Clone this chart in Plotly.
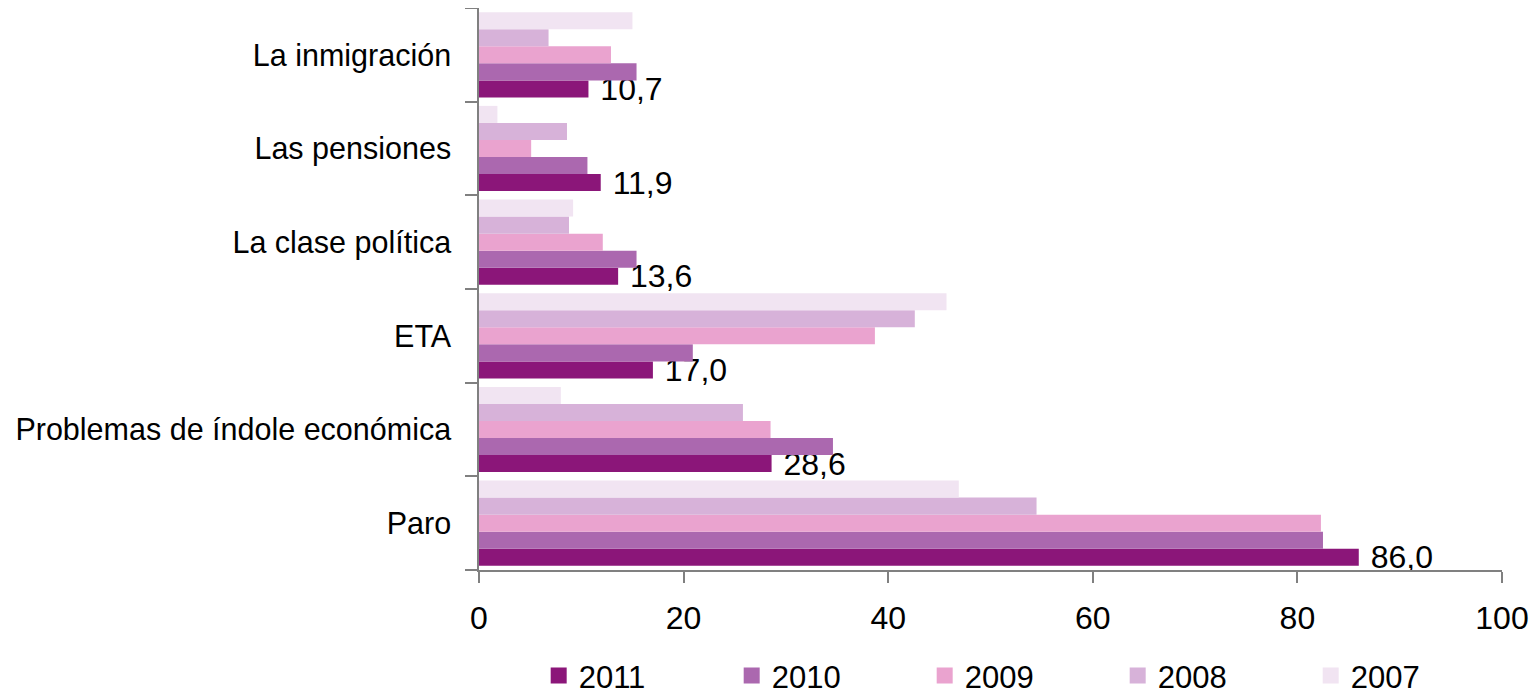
import plotly.graph_objects as go

categorias = ["Paro", "Problemas de índole económica", "ETA",
              "La clase política", "Las pensiones", "La inmigración"]

anos = ["2011", "2010", "2009", "2008", "2007"]

v2011 = [86.0, 28.6, 17.0, 13.6, 11.9, 10.7]
v2010 = [82.5, 34.6, 20.9, 15.4, 10.6, 15.4]
v2009 = [82.3, 28.5, 38.7, 12.1, 5.1, 12.9]
v2008 = [54.5, 25.8, 42.6, 8.8, 8.6, 6.8]
v2007 = [46.9, 8.0, 45.7, 9.2, 1.8, 15.0]

series = [v2011, v2010, v2009, v2008, v2007]
colores = ["#8B1679", "#AB68AF", "#EAA3CF", "#D7B2D9", "#F1E4F2"]

fuente = "Liberation Sans"

fig = go.Figure()
for ano, vals, col in zip(anos, series, colores):
    kw = {}
    if ano == "2011":
        # solo 2011 lleva etiqueta de datos
        kw = dict(texttemplate=" %{x:.1f}", textposition="outside",
                  textfont=dict(size=32, color="black", family=fuente),
                  constraintext="none", cliponaxis=False)
    fig.add_trace(go.Bar(y=categorias, x=vals, name=ano, orientation="h",
                         marker=dict(color=col, line=dict(width=0)),
                         showlegend=False, **kw))

# leyenda con cuadrados grandes
for ano, col in zip(anos, colores):
    fig.add_trace(go.Scatter(x=[None], y=[None], mode="markers", name=ano,
                             marker=dict(symbol="square", size=20, color=col)))

# la página tiene 8px de margen, así que la figura se ajusta a lo visible
fig.update_layout(
    barmode="group", bargap=0.09, bargroupgap=0,
    width=1530, height=690,
    margin=dict(l=471, r=36, t=0, b=128),
    plot_bgcolor="white", paper_bgcolor="white",
    separators=",.",
    font=dict(family=fuente, size=30, color="black"),
    legend=dict(orientation="h", x=0.53, xanchor="center",
                yref="container", y=0.032, yanchor="middle",
                font=dict(size=31), entrywidth=148, entrywidthmode="pixels",
                traceorder="normal", itemwidth=30),
)
fig.update_xaxes(range=[0, 100], dtick=20, showgrid=False, zeroline=False,
                 showline=True, linecolor="#808080", linewidth=1.5,
                 ticks="outside", ticklen=11, tickcolor="#808080", tickwidth=1.5,
                 ticklabelstandoff=8, tickfont=dict(size=32), automargin=False)
fig.update_yaxes(showgrid=False, showline=True, linecolor="#808080", linewidth=1.5,
                 ticks="outside", tickson="boundaries", ticklen=12,
                 tickcolor="#808080", tickwidth=1.5, automargin=False,
                 ticklabelstandoff=20, tickfont=dict(size=30.5))

fig.write_html("out.html")
